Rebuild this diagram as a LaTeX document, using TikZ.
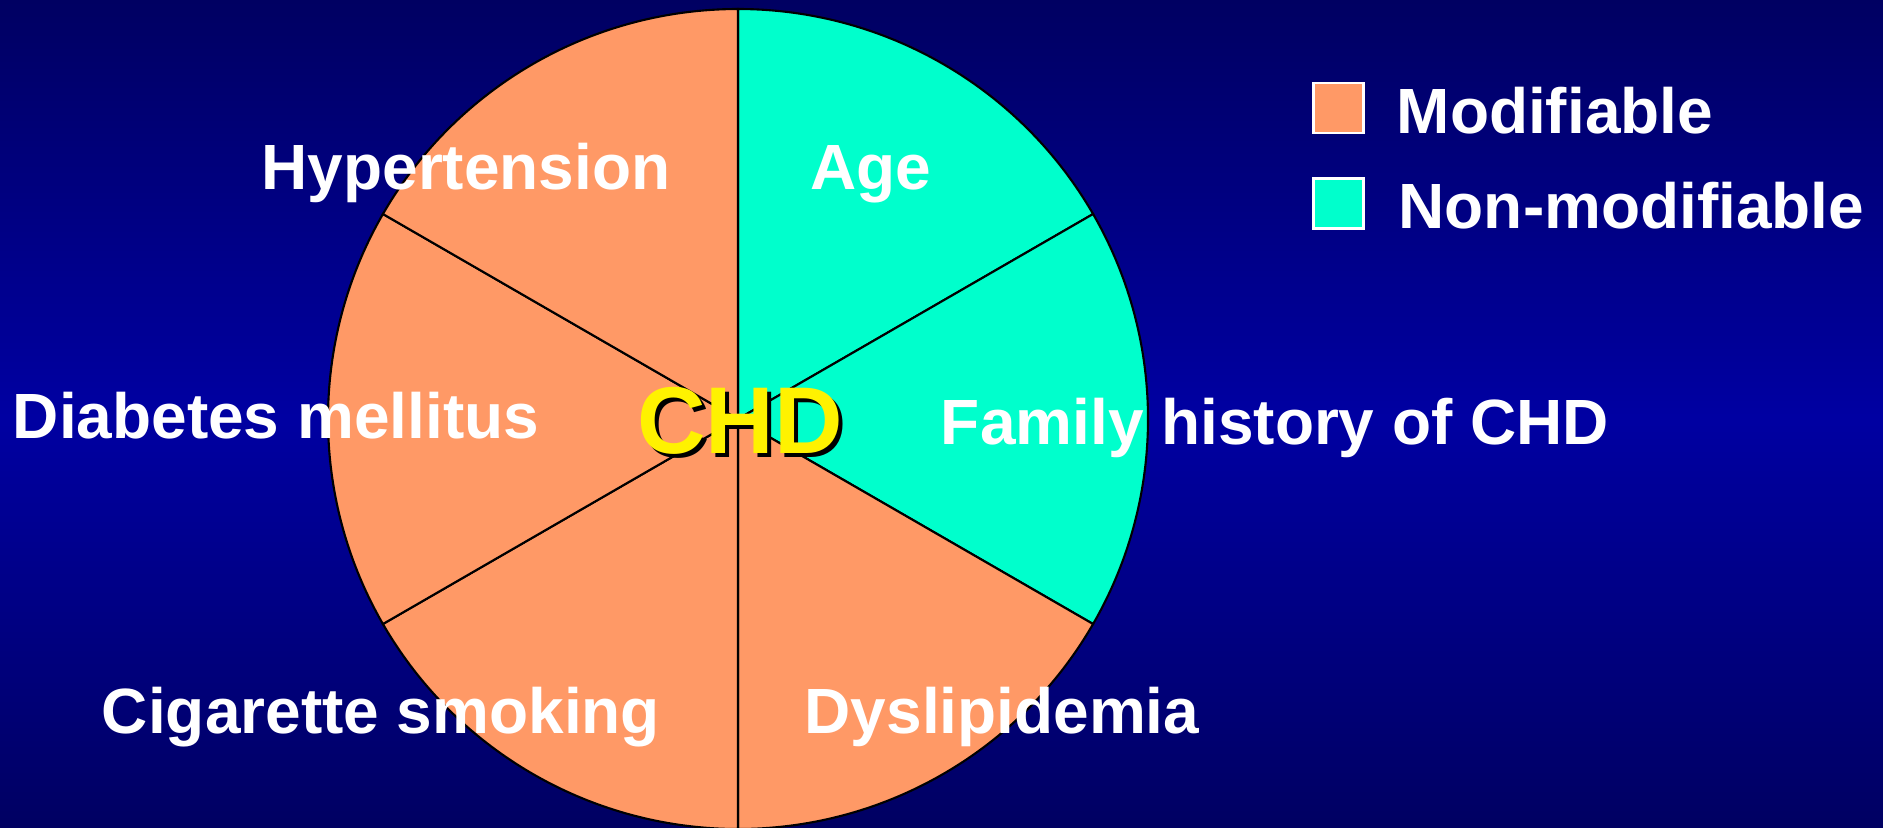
\documentclass[tikz,border=0pt]{standalone}
\usepackage{fontspec}
\setmainfont{Liberation Sans}
\definecolor{bgdark}{RGB}{0,0,98}
\definecolor{bgmid}{RGB}{0,0,162}
\definecolor{modif}{RGB}{255,153,102}
\definecolor{nonmodif}{RGB}{0,255,204}
\begin{document}
\begin{tikzpicture}[
	txt/.style={text=white, font=\bfseries\fontsize{18.2}{22}\selectfont, inner sep=0, anchor=base},
	keybox/.style={draw=white, line width=0.8pt, minimum width=5mm, minimum height=5mm, inner sep=0},
	hub/.style={font=\bfseries\fontsize{27}{32}\selectfont, inner sep=0, anchor=base}];
	\useasboundingbox (0,0) rectangle (18.83,8.27);
	\clip (0,0) rectangle (18.83,8.27);
	\shade[top color=bgdark, bottom color=bgmid] (0,4.1) rectangle (18.83,8.27);
	\shade[top color=bgmid, bottom color=bgdark] (0,0) rectangle (18.83,4.11);
	
	\coordinate (c) at (7.38,4.08);
	\foreach \a/\b/\col in {90/30/nonmodif, 30/-30/nonmodif, -30/-90/modif,
		-90/-150/modif, -150/-210/modif, 150/90/modif}
		\filldraw[fill=\col, draw=black, line width=0.6pt]
		(c) -- ++(\a:4.1) arc[start angle=\a, end angle=\b, radius=4.1] -- cycle;
	
	\node[txt] (1) at (4.66,6.38) {Hypertension};
	\node[txt] (2) at (8.71,6.38) {Age};
	\node[txt] (3) at (2.76,3.89) {Diabetes mellitus};
	\node[txt] (4) at (12.75,3.83) {Family history of CHD};
	\node[txt] (5) at (3.81,0.94) {Cigarette smoking};
	\node[txt] (6) at (10.02,0.94) {Dyslipidemia};
	
	\node[hub, text=black] (7) at (7.44,3.70) {CHD};
	\node[hub, text=yellow] (8) at (7.40,3.74) {CHD};
	
	\node[keybox, fill=modif] (9) at (13.385,7.19) {};
	\node[keybox, fill=nonmodif] (10) at (13.385,6.235) {};
	\node[txt, anchor=base west] (11) at (13.96,6.94) {Modifiable};
	\node[txt, anchor=base west] (12) at (13.98,5.99) {Non-modifiable};
\end{tikzpicture}
\end{document}
